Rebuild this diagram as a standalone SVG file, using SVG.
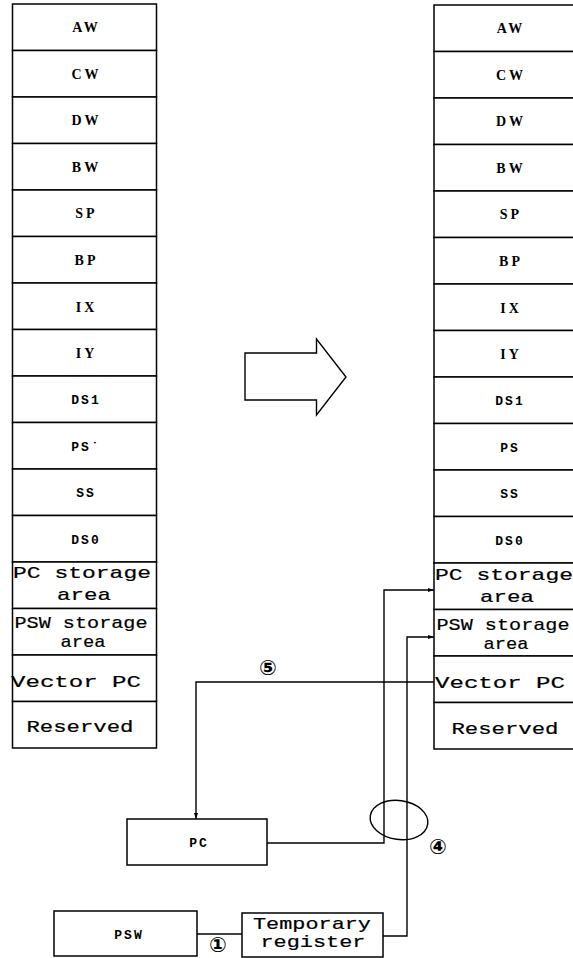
<svg xmlns="http://www.w3.org/2000/svg" width="573" height="958" viewBox="0 0 573 958">
<defs>
<style>
.box{fill:#fff;stroke:#000;stroke-width:1.5}
.ln{fill:none;stroke:#000;stroke-width:1.4}
.ser{font-family:"Liberation Serif",serif;font-weight:bold;font-size:14px;text-anchor:middle;letter-spacing:3px}
.mb{font-family:"Liberation Mono",monospace;font-weight:bold;font-size:13px;text-anchor:middle;letter-spacing:2px}
.mono{font-family:"Liberation Mono",monospace;font-size:17px;text-anchor:middle;stroke:#000;stroke-width:0.2}
.num{font-family:"DejaVu Sans",sans-serif;font-size:21px;font-weight:bold;text-anchor:middle}
</style>
<marker id="ah" markerWidth="6" markerHeight="6" refX="6" refY="3" orient="auto" markerUnits="userSpaceOnUse">
<path d="M0,1 L6,3 L0,5 Z" fill="#000"/>
</marker>
</defs>
<rect width="573" height="958" fill="#fff"/>

<g id="left-stack">
<rect class="box" x="12.5" y="4" width="144" height="46.5"/>
<rect class="box" x="12.5" y="50.5" width="144" height="46.5"/>
<rect class="box" x="12.5" y="97" width="144" height="46.5"/>
<rect class="box" x="12.5" y="143.5" width="144" height="46.5"/>
<rect class="box" x="12.5" y="190" width="144" height="46.5"/>
<rect class="box" x="12.5" y="236.5" width="144" height="46.5"/>
<rect class="box" x="12.5" y="283" width="144" height="46.5"/>
<rect class="box" x="12.5" y="329.5" width="144" height="46.5"/>
<rect class="box" x="12.5" y="376" width="144" height="46.5"/>
<rect class="box" x="12.5" y="422.5" width="144" height="46.5"/>
<rect class="box" x="12.5" y="469" width="144" height="46.5"/>
<rect class="box" x="12.5" y="515.5" width="144" height="46.5"/>
<rect class="box" x="12.5" y="562" width="144" height="46.5"/>
<rect class="box" x="12.5" y="608.5" width="144" height="46.5"/>
<rect class="box" x="12.5" y="655" width="144" height="46.5"/>
<rect class="box" x="12.5" y="701.5" width="144" height="46.5"/>
<text class="ser" x="86.5" y="32">AW</text>
<text class="ser" x="86.5" y="79">CW</text>
<text class="ser" x="86.5" y="125">DW</text>
<text class="ser" x="86.5" y="172">BW</text>
<text class="ser" x="86.5" y="218">SP</text>
<text class="ser" x="86.5" y="265">BP</text>
<text class="ser" x="86.5" y="312">IX</text>
<text class="ser" x="86.5" y="358">IY</text>
<text class="mb" x="86" y="404">DS1</text>
<text class="mb" x="86" y="451">PS˙</text>
<text class="mb" x="86" y="497">SS</text>
<text class="mb" x="86" y="544">DS0</text>
<text class="mono" x="82" y="578" textLength="138" lengthAdjust="spacingAndGlyphs">PC storage</text>
<text class="mono" x="84" y="600" textLength="54" lengthAdjust="spacingAndGlyphs">area</text>
<text class="mono" x="81" y="628" font-size="15" textLength="133" lengthAdjust="spacingAndGlyphs">PSW storage</text>
<text class="mono" x="83" y="647" font-size="15" textLength="45" lengthAdjust="spacingAndGlyphs">area</text>
<text class="mono" x="76" y="687" textLength="130" lengthAdjust="spacingAndGlyphs">Vector PC</text>
<text class="mono" x="80" y="732" textLength="107" lengthAdjust="spacingAndGlyphs">Reserved</text>
</g>

<g id="big-arrow">
<path class="ln" stroke-width="1.6" d="M245,353 L316.5,353 L316.5,339 L346,377 L316.5,415 L316.5,400 L245,400 Z"/>
</g>

<g id="right-stack">
<rect class="box" x="434" y="5" width="146" height="46.5"/>
<rect class="box" x="434" y="51.5" width="146" height="46.5"/>
<rect class="box" x="434" y="98" width="146" height="46.5"/>
<rect class="box" x="434" y="144.5" width="146" height="46.5"/>
<rect class="box" x="434" y="191" width="146" height="46.5"/>
<rect class="box" x="434" y="237.5" width="146" height="46.5"/>
<rect class="box" x="434" y="284" width="146" height="46.5"/>
<rect class="box" x="434" y="330.5" width="146" height="46.5"/>
<rect class="box" x="434" y="377" width="146" height="46.5"/>
<rect class="box" x="434" y="423.5" width="146" height="46.5"/>
<rect class="box" x="434" y="470" width="146" height="46.5"/>
<rect class="box" x="434" y="516.5" width="146" height="46.5"/>
<rect class="box" x="434" y="563" width="146" height="46.5"/>
<rect class="box" x="434" y="609.5" width="146" height="46.5"/>
<rect class="box" x="434" y="656" width="146" height="46.5"/>
<rect class="box" x="434" y="702.5" width="146" height="46.5"/>
<text class="ser" x="511" y="33">AW</text>
<text class="ser" x="511" y="80">CW</text>
<text class="ser" x="511" y="126">DW</text>
<text class="ser" x="511" y="173">BW</text>
<text class="ser" x="511" y="219">SP</text>
<text class="ser" x="511" y="266">BP</text>
<text class="ser" x="511" y="313">IX</text>
<text class="ser" x="511" y="359">IY</text>
<text class="mb" x="510" y="405">DS1</text>
<text class="mb" x="510" y="452">PS</text>
<text class="mb" x="510" y="498">SS</text>
<text class="mb" x="510" y="545">DS0</text>
<text class="mono" x="504" y="580" textLength="138" lengthAdjust="spacingAndGlyphs">PC storage</text>
<text class="mono" x="507" y="602" textLength="54" lengthAdjust="spacingAndGlyphs">area</text>
<text class="mono" x="503" y="630" font-size="15" textLength="133" lengthAdjust="spacingAndGlyphs">PSW storage</text>
<text class="mono" x="506" y="649" font-size="15" textLength="45" lengthAdjust="spacingAndGlyphs">area</text>
<text class="mono" x="500" y="688" textLength="130" lengthAdjust="spacingAndGlyphs">Vector PC</text>
<text class="mono" x="505" y="734" textLength="107" lengthAdjust="spacingAndGlyphs">Reserved</text>
</g>

<g id="pc">
<rect class="box" x="127" y="819" width="140" height="46"/>
<text class="mb" x="199" y="847">PC</text>
</g>

<g id="psw">
<rect class="box" x="54" y="911" width="143" height="45"/>
<text class="mb" x="129" y="939">PSW</text>
</g>

<g id="temp-register">
<rect class="box" x="242" y="913" width="141" height="44"/>
<text class="mono" x="312" y="929" font-size="16" textLength="118" lengthAdjust="spacingAndGlyphs">Temporary</text>
<text class="mono" x="313" y="947" font-size="16" textLength="105" lengthAdjust="spacingAndGlyphs">register</text>
</g>

<g id="connectors">
<path class="ln" d="M434,682 L196,682 L196,819" marker-end="url(#ah)"/>
<path class="ln" d="M267,843 L384,843 L384,590 L434,590" marker-end="url(#ah)"/>
<path class="ln" d="M383,936 L407,936 L407,637 L434,637" marker-end="url(#ah)"/>
<path class="ln" d="M197,934 L242,934"/>
<ellipse class="ln" cx="399" cy="820" rx="29" ry="19.5" transform="rotate(8 399 820)"/>
<text class="num" x="268" y="675">⑤</text>
<text class="num" x="438" y="854">④</text>
<text class="num" x="218" y="952" font-size="18">①</text>
</g>
</svg>
